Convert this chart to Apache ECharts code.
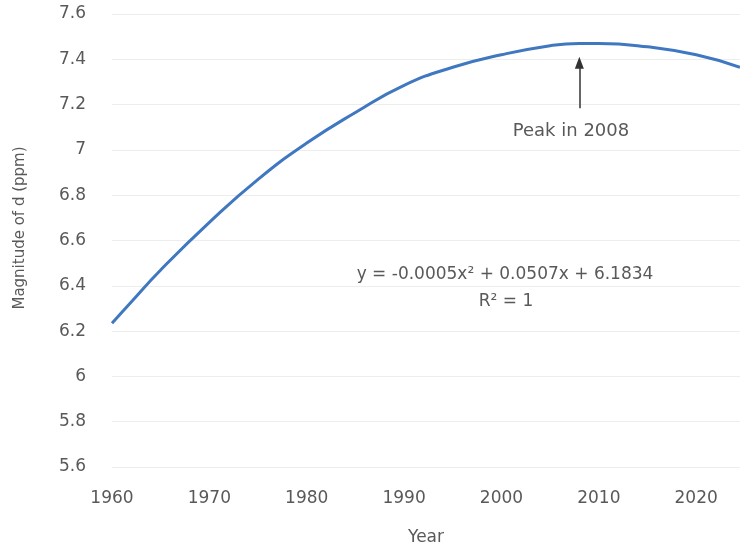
<!DOCTYPE html>
<html>
<head>
<meta charset="utf-8">
<script src="https://cdn.jsdelivr.net/npm/echarts@6/dist/echarts.min.js"></script>
<style>
html,body{margin:0;padding:0;background:#fff;}
#chart{width:740px;height:551px;}
</style>
</head>
<body>
<div id="chart"></div>
<script>
const years = [1960, 1962, 1965, 1970, 1975, 1980, 1985, 1990, 1995, 2000, 2005, 2008, 2010, 2015, 2020, 2024.5];
const magnitude = [6.235, 6.33, 6.47, 6.68, 6.87, 7.03, 7.165, 7.285, 7.365, 7.42, 7.46, 7.47, 7.47, 7.455, 7.42, 7.365];
const peakYear = 2008;
const arrowFrom = 7.184;
const arrowTo = 7.385;
const xTicks = [1960, 1970, 1980, 1990, 2000, 2010, 2020];
const yTicks = [5.6, 5.8, 6, 6.2, 6.4, 6.6, 6.8, 7, 7.2, 7.4, 7.6];
const xTitle = 'Year';
const yTitle = 'Magnitude of d (ppm)';
const equationText = 'y = -0.0005x² + 0.0507x + 6.1834';
const r2Text = 'R² = 1';
const peakText = 'Peak in 2008';

const font = '"DejaVu Sans", sans-serif';
const textColor = '#595959';
const chart = echarts.init(document.getElementById('chart'));
chart.setOption({
  animation: false,
  backgroundColor: '#fff',
  grid: {left: 112, right: 0, top: 14, bottom: 79},
  xAxis: {
    type: 'value', min: 1960, max: 2024.5, interval: 10,
    name: xTitle, nameLocation: 'middle', nameGap: 62,
    nameTextStyle: {color: textColor, fontSize: 17, fontFamily: font},
    axisLine: {show: false}, axisTick: {show: false},
    splitLine: {show: false},
    axisLabel: {color: textColor, fontSize: 17, fontFamily: font, margin: 23,
      showMaxLabel: false,
      formatter: v => xTicks.includes(v) ? String(v) : ''}
  },
  yAxis: {
    type: 'value', min: 5.6, max: 7.6, interval: 0.2,
    axisLine: {show: false}, axisTick: {show: false},
    splitLine: {lineStyle: {color: '#ededed', width: 1}},
    axisLabel: {color: textColor, fontSize: 17, fontFamily: font, margin: 26,
      formatter: v => {
        const t = yTicks.find(k => Math.abs(k - v) < 1e-6);
        return t === undefined ? '' : String(t);
      }}
  },
  series: [{
    type: 'line',
    data: years.map((y, i) => [y, magnitude[i]]),
    smooth: true,
    showSymbol: false,
    lineStyle: {color: '#3f78c0', width: 3},
    markLine: {
      silent: true,
      symbol: ['none', 'triangle'],
      symbolSize: [9, 12],
      label: {show: false},
      lineStyle: {color: '#333', width: 1.5, type: 'solid'},
      data: [[{coord: [peakYear, arrowFrom]}, {coord: [peakYear, arrowTo]}]]
    }
  }],
  graphic: [
    {type: 'text', x: 20, y: 228, rotation: Math.PI / 2, style: {text: yTitle, fill: textColor, font: '15px ' + font, textAlign: 'center', textVerticalAlign: 'middle'}},
    {type: 'text', x: 571, y: 131, style: {text: peakText, fill: textColor, font: '18px ' + font, textAlign: 'center', textVerticalAlign: 'middle'}},
    {type: 'text', x: 505, y: 275, style: {text: equationText, fill: textColor, font: '17px ' + font, textAlign: 'center', textVerticalAlign: 'middle'}},
    {type: 'text', x: 506, y: 302, style: {text: r2Text, fill: textColor, font: '17px ' + font, textAlign: 'center', textVerticalAlign: 'middle'}}
  ]
});
</script>
</body>
</html>
